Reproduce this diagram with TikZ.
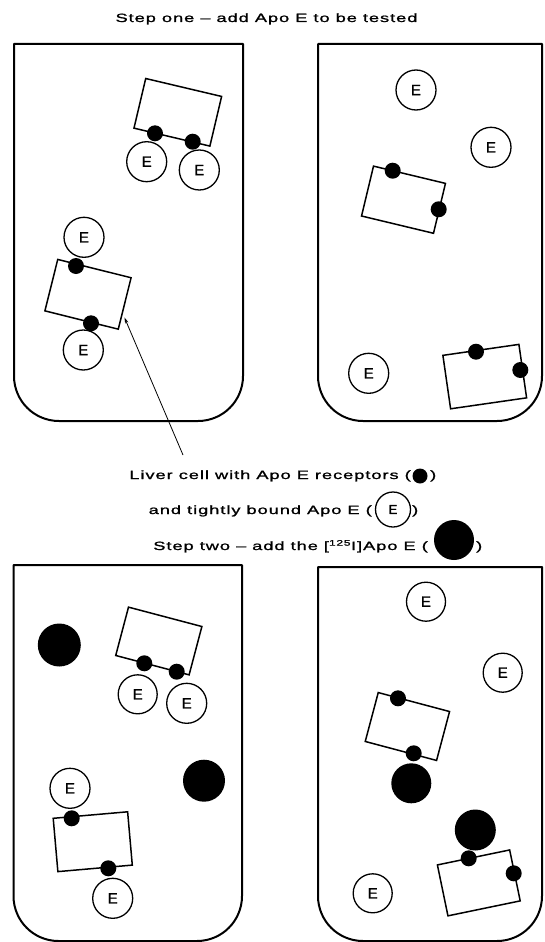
\documentclass[tikz,border=0pt]{standalone}
\usepackage{fontspec}
\setmainfont{Liberation Sans}
\newfontfamily\capfont{Liberation Sans}[FakeStretch=1.52,LetterSpace=8,FakeBold=1.3]
\newfontfamily\efont{Liberation Sans}[FakeBold=1.2]
\usetikzlibrary{arrows.meta,calc}

\begin{document}
\begin{tikzpicture}[x=1pt,y=-1pt,
  tube/.style={draw, line width=2pt, line join=round},
  cell/.style={draw, line width=1.5pt, inner sep=0pt, minimum width=76pt, minimum height=52pt},
  receptor/.style={circle, fill=black, inner sep=0pt, minimum size=16pt},
  apo/.style={circle, draw, line width=1.3pt, fill=white, inner sep=0pt, minimum size=40pt, font=\efont\fontsize{15}{15}\selectfont},
  hot/.style={circle, fill=black, inner sep=0pt, minimum size=41pt},
  lbl/.style={inner sep=0pt, font=\capfont\fontsize{12}{13}\selectfont},
  pointer/.style={line width=0.8pt, -{Stealth[length=6pt,width=3.5pt]}}]

\useasboundingbox (0,0) rectangle (544,942);

% ---------- heading ----------
\node[lbl, anchor=base] (title) at (266.5,22) {Step one \textendash{} add Apo E to be tested};

% ---------- tubes: square top, rounded bottom ----------
\draw[tube] (243,200) -- (243,44) -- (14,44) -- (14,200) [rounded corners=45pt] -- (14,421) -- (243,421) -- (243,200);
\draw[tube] (542,200) -- (542,44) -- (318,44) -- (318,200) [rounded corners=45pt] -- (318,421) -- (542,421) -- (542,200);
\draw[tube] (242,750) -- (242,565) -- (13.5,565) -- (13.5,750) [rounded corners=45pt] -- (13.5,941) -- (242,941) -- (242,750);
\draw[tube] (542,750) -- (542,567) -- (318,567) -- (318,750) [rounded corners=45pt] -- (318,941) -- (542,941) -- (542,750);

% ---------- step one, left tube ----------
\node[apo] (e1) at (146.7,161.7) {E};
\node[apo] (e2) at (199.3,170) {E};
\node[cell, minimum width=78pt, minimum height=51pt, rotate=-13.3] (c1) at (177.8,112.3) {};
\node[receptor] (r1) at (155,133.3) {};
\node[receptor] (r2) at (192.7,141.7) {};

\node[apo] (e3) at (84,237.3) {E};
\node[apo] (e4) at (83.3,350) {E};
\node[cell, minimum width=75.6pt, minimum height=53pt, rotate=-14] (c2) at (88,294.3) {};
\node[receptor] (r3) at (76,266) {};
\node[receptor] (r4) at (91,323.3) {};

% ---------- step one, right tube ----------
\node[apo] (e5) at (416,90) {E};
\node[apo] (e6) at (491,147.3) {E};
\node[apo] (e7) at (368.7,373.3) {E};
\node[cell, minimum width=74pt, minimum height=51.3pt, rotate=-13.5] (c3) at (403.5,199.7) {};
\node[receptor] (r5) at (392.7,170.7) {};
\node[receptor] (r6) at (438.7,209.3) {};
\node[cell, minimum width=76.8pt, minimum height=54pt, rotate=8.2] (c4) at (484.75,376.6) {};
\node[receptor] (r7) at (476,351.7) {};
\node[receptor] (r8) at (520.3,370) {};

% ---------- legend ----------
\coordinate (ptr) at (183,455);
\draw[pointer] (ptr) -- ($(c2.north east)!0.8!(c2.south east)+(3,-2)$);

\node[lbl, anchor=base east] (l1) at (411,479) {Liver cell with Apo E receptors (};
\node[receptor, minimum size=15pt] (l1dot) at (420,476) {};
\node[lbl, anchor=base west] (l1end) at (430,479) {)};

\node[lbl, anchor=base east] (l2) at (372,514) {and tightly bound Apo E (};
\node[apo, minimum size=35pt, font=\efont\fontsize{13}{13}\selectfont] (l2e) at (393,509.5) {E};
\node[lbl, anchor=base west] (l2end) at (412,514) {)};

\node[lbl, anchor=base east] (l3) at (428,550) {Step two \textendash{} add the [\textsuperscript{125}I]Apo E (};
\node[hot, minimum size=40pt] (l3dot) at (454,540) {};
\node[lbl, anchor=base west] (l3end) at (476,550) {)};

% ---------- step two, left tube ----------
\node[hot, minimum size=43pt] (h1) at (59.3,645) {};
\node[hot, minimum size=42pt] (h2) at (204,780.7) {};

\node[apo, minimum size=39pt] (e8) at (137.7,694.3) {E};
\node[apo] (e9) at (186.7,703.3) {E};
\node[cell, minimum width=75.9pt, minimum height=50pt, rotate=-14.8] (c5) at (158.8,641) {};
\node[receptor] (r9) at (144.3,663.3) {};
\node[receptor] (r10) at (176.7,671.7) {};

\node[apo] (e10) at (70,788.3) {E};
\node[apo] (e11) at (112.7,898.3) {E};
\node[cell, minimum width=74.7pt, minimum height=53.5pt, rotate=5] (c6) at (92.75,841.7) {};
\node[receptor] (r11) at (71.7,818.3) {};
\node[receptor] (r12) at (108.3,868.3) {};

% ---------- step two, right tube ----------
\node[apo, minimum size=39pt] (e12) at (426,601.7) {E};
\node[apo, minimum size=39pt] (e13) at (502.7,672.7) {E};
\node[apo, minimum size=39pt] (e14) at (372.7,893.3) {E};

\node[hot, minimum size=40pt] (h3) at (411.3,783.3) {};
\node[cell, minimum width=73.8pt, minimum height=50.6pt, rotate=-14.9] (c7) at (407.4,726.5) {};
\node[receptor] (r13) at (398,698.3) {};
\node[receptor] (r14) at (413.7,753.3) {};

\node[hot, minimum size=41pt] (h4) at (475.3,830) {};
\node[cell, minimum width=73.8pt, minimum height=52pt, rotate=11.7] (c8) at (478.8,882.9) {};
\node[receptor] (r15) at (468.7,858.3) {};
\node[receptor] (r16) at (513.7,873.3) {};

\end{tikzpicture}
\end{document}
